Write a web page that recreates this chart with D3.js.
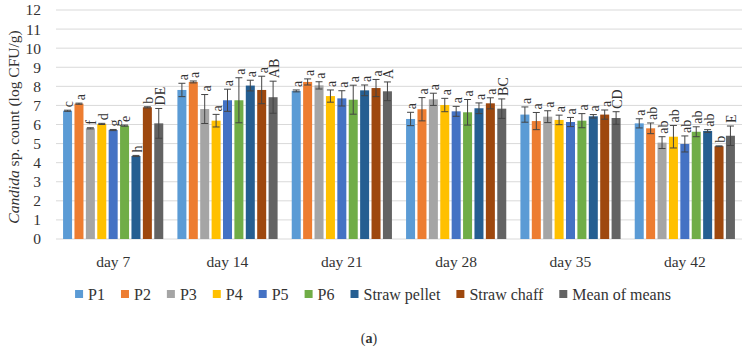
<!DOCTYPE html>
<html>
<head>
<meta charset="utf-8">
<script src="https://d3js.org/d3.v7.min.js"></script>
<style>
  body { margin: 0; background: #fff; }
  text { font-family: "Liberation Serif", serif; fill: #333; }
</style>
</head>
<body>
<svg id="chart" width="748" height="348"></svg>
<script>
// categories and series
var days = ["day 7", "day 14", "day 21", "day 28", "day 35", "day 42"]
var series = ["P1", "P2", "P3", "P4", "P5", "P6", "Straw pellet", "Straw chaff", "Mean of means"]
var colors = ["#5B9BD5", "#ED7D31", "#A5A5A5", "#FFC000", "#4472C4", "#70AD47", "#255E91", "#9E480E", "#636363"]

// mean values per series, one entry per day
var P1 = [6.72, 7.81, 7.76, 6.29, 6.52, 6.06]
var P2 = [7.09, 8.23, 8.23, 6.80, 6.18, 5.80]
var P3 = [5.80, 6.81, 8.05, 7.32, 6.41, 5.05]
var P4 = [6.03, 6.20, 7.49, 7.02, 6.24, 5.36]
var P5 = [5.71, 7.27, 7.37, 6.69, 6.13, 4.98]
var P6 = [5.94, 7.27, 7.30, 6.64, 6.20, 5.62]
var strawPellet = [4.35, 8.04, 7.79, 6.85, 6.43, 5.66]
var strawChaff = [6.90, 7.81, 7.91, 7.11, 6.52, 4.86]
var meanOfMeans = [6.06, 7.43, 7.74, 6.83, 6.34, 5.41]

// error (sd) per series
var P1err = [0.03, 0.35, 0.05, 0.35, 0.40, 0.24]
var P2err = [0.03, 0.05, 0.16, 0.61, 0.45, 0.28]
var P3err = [0.03, 0.76, 0.19, 0.32, 0.31, 0.31]
var P4err = [0.03, 0.33, 0.32, 0.35, 0.25, 0.59]
var P5err = [0.03, 0.58, 0.40, 0.26, 0.24, 0.42]
var P6err = [0.03, 1.18, 0.76, 0.67, 0.37, 0.26]
var strawPelletErr = [0.03, 0.28, 0.28, 0.28, 0.09, 0.07]
var strawChaffErr = [0.03, 0.72, 0.45, 0.29, 0.24, 0.02]
var meanErr = [0.78, 0.84, 0.49, 0.51, 0.33, 0.51]

// significance letters
var lettersDay7 = ["c", "a", "f", "d", "g", "e", "h", "b", "DE"]
var lettersDay14 = ["a", "a", "a", "a", "a", "a", "a", "a", "AB"]
var lettersDay21 = ["a", "a", "a", "a", "a", "a", "a", "a", "A"]
var lettersDay28 = ["a", "a", "a", "a", "a", "a", "a", "a", "BC"]
var lettersDay35 = ["a", "a", "a", "a", "a", "a", "a", "a", "CD"]
var lettersDay42 = ["a", "ab", "ab", "ab", "ab", "ab", "ab", "b", "E"]

var yTicks = d3.range(0, 13)

var values = [P1, P2, P3, P4, P5, P6, strawPellet, strawChaff, meanOfMeans]
var errors = [P1err, P2err, P3err, P4err, P5err, P6err, strawPelletErr, strawChaffErr, meanErr]
var letters = [lettersDay7, lettersDay14, lettersDay21, lettersDay28, lettersDay35, lettersDay42]

var svg = d3.select("#chart")

var y = d3.scaleLinear().domain([0, 12]).range([239, 10])
var x0 = d3.scaleBand().domain(days).range([56, 742]).padding(0)
var x1 = d3.scaleBand().domain(series).range([0, x0.bandwidth()])
  .paddingInner(0.21).paddingOuter(0.62)

// gridlines
svg.append("g").selectAll("line")
  .data(yTicks)
  .enter().append("line")
  .attr("x1", 56).attr("x2", 742)
  .attr("y1", function(d){ return y(d) }).attr("y2", function(d){ return y(d) })
  .style("stroke", "#d9d9d9").style("stroke-width", 1)

// y tick labels
svg.append("g").selectAll("text")
  .data(yTicks)
  .enter().append("text")
  .attr("x", 41).attr("y", function(d){ return y(d) })
  .attr("dy", "0.35em")
  .attr("text-anchor", "end")
  .style("font-size", "15.5px")
  .text(function(d){ return d })

// y axis title
svg.append("text")
  .attr("transform", "translate(19,127) rotate(-90)")
  .attr("text-anchor", "middle")
  .style("font-size", "15.5px")
  .html('<tspan font-style="italic">Candida</tspan> sp. count (log CFU/g)')

// x labels
svg.append("g").selectAll("text")
  .data(days)
  .enter().append("text")
  .attr("x", function(d){ return x0(d) + x0.bandwidth() / 2 })
  .attr("y", 267)
  .attr("text-anchor", "middle")
  .style("font-size", "15.5px")
  .text(function(d){ return d })

// flatten data
var rows = []
days.forEach(function(day, di) {
  series.forEach(function(s, si) {
    rows.push({ day: day, s: s, si: si, v: values[si][di], e: errors[si][di], l: letters[di][si] })
  })
})

var groups = svg.append("g").selectAll("g")
  .data(rows)
  .enter().append("g")
  .attr("transform", function(d){ return "translate(" + (x0(d.day) + x1(d.s)) + ",0)" })

groups.append("rect")
  .attr("x", 0)
  .attr("width", x1.bandwidth())
  .attr("y", function(d){ return y(d.v) })
  .attr("height", function(d){ return y(0) - y(d.v) })
  .style("fill", function(d){ return colors[d.si] })

var bw = x1.bandwidth()
groups.append("line")
  .attr("x1", bw / 2).attr("x2", bw / 2)
  .attr("y1", function(d){ return y(d.v - d.e) })
  .attr("y2", function(d){ return y(d.v + d.e) })
  .style("stroke", "#444").style("stroke-width", 1)
groups.append("line")
  .attr("x1", bw / 2 - 3.5).attr("x2", bw / 2 + 3.5)
  .attr("y1", function(d){ return y(d.v + d.e) })
  .attr("y2", function(d){ return y(d.v + d.e) })
  .style("stroke", "#444").style("stroke-width", 1)
groups.append("line")
  .attr("x1", bw / 2 - 3.5).attr("x2", bw / 2 + 3.5)
  .attr("y1", function(d){ return y(d.v - d.e) })
  .attr("y2", function(d){ return y(d.v - d.e) })
  .style("stroke", "#444").style("stroke-width", 1)

groups.append("text")
  .attr("transform", function(d){ return "translate(" + (bw / 2 + 1) + "," + (y(d.v + d.e) - 3) + ") rotate(-90)" })
  .attr("dy", "0.35em")
  .style("font-size", "14px")
  .text(function(d){ return d.l })

// legend, laid out from the measured text widths and centred
var legend = svg.append("g")
var items = legend.selectAll("g")
  .data(series)
  .enter().append("g")
items.append("rect")
  .attr("x", 0).attr("y", -4).attr("width", 8).attr("height", 8)
  .style("fill", function(d, i){ return colors[i] })
items.append("text")
  .attr("x", 13).attr("dy", "0.35em")
  .style("font-size", "16px")
  .text(function(d){ return d })

var pos = 0
items.each(function() {
  var g = d3.select(this)
  g.attr("transform", "translate(" + pos + ",294)")
  pos += 13 + g.select("text").node().getComputedTextLength() + 16
})
pos -= 16
legend.attr("transform", "translate(" + (373 - pos / 2) + ",0)")

svg.append("text")
  .attr("x", 369).attr("y", 343)
  .attr("text-anchor", "middle")
  .style("font-size", "14px")
  .html('(<tspan font-weight="bold">a</tspan>)')
</script>
</body>
</html>
